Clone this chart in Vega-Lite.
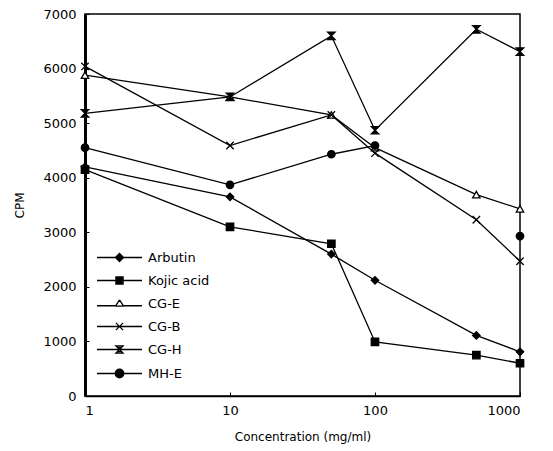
{
  "$schema": "https://vega.github.io/schema/vega-lite/v6.json",
  "width": 435,
  "height": 382,
  "autosize": "none",
  "padding": {"left": 85, "top": 14, "right": 33, "bottom": 55},
  "background": "white",
  "config": {
    "font": "DejaVu Sans",
    "view": {"stroke": "black", "strokeWidth": 1.5},
    "axis": {"grid": false, "labelColor": "black", "titleColor": "black", "domainColor": "black", "tickColor": "black", "labelFontSize": 13, "titleFontSize": 12, "titleFontWeight": "normal", "labelFont": "DejaVu Sans", "titleFont": "DejaVu Sans"}
  },
  "data": {
    "values": [
      {"series": "Arbutin", "conc": 1, "cpm": 4200},
      {"series": "Arbutin", "conc": 10, "cpm": 3650},
      {"series": "Arbutin", "conc": 50, "cpm": 2600},
      {"series": "Arbutin", "conc": 100, "cpm": 2120},
      {"series": "Arbutin", "conc": 500, "cpm": 1110},
      {"series": "Arbutin", "conc": 1000, "cpm": 810},
      {"series": "Kojic acid", "conc": 1, "cpm": 4150},
      {"series": "Kojic acid", "conc": 10, "cpm": 3100},
      {"series": "Kojic acid", "conc": 50, "cpm": 2790},
      {"series": "Kojic acid", "conc": 100, "cpm": 990},
      {"series": "Kojic acid", "conc": 500, "cpm": 750},
      {"series": "Kojic acid", "conc": 1000, "cpm": 600},
      {"series": "CG-E", "conc": 1, "cpm": 5880},
      {"series": "CG-E", "conc": 10, "cpm": 5480},
      {"series": "CG-E", "conc": 50, "cpm": 5150},
      {"series": "CG-E", "conc": 100, "cpm": 4550},
      {"series": "CG-E", "conc": 500, "cpm": 3690},
      {"series": "CG-E", "conc": 1000, "cpm": 3430},
      {"series": "CG-B", "conc": 1, "cpm": 6040},
      {"series": "CG-B", "conc": 10, "cpm": 4590},
      {"series": "CG-B", "conc": 50, "cpm": 5150},
      {"series": "CG-B", "conc": 100, "cpm": 4450},
      {"series": "CG-B", "conc": 500, "cpm": 3230},
      {"series": "CG-B", "conc": 1000, "cpm": 2470},
      {"series": "CG-H", "conc": 1, "cpm": 5180},
      {"series": "CG-H", "conc": 10, "cpm": 5480},
      {"series": "CG-H", "conc": 50, "cpm": 6600},
      {"series": "CG-H", "conc": 100, "cpm": 4870},
      {"series": "CG-H", "conc": 500, "cpm": 6720},
      {"series": "CG-H", "conc": 1000, "cpm": 6310},
      {"series": "MH-E", "conc": 1, "cpm": 4550},
      {"series": "MH-E", "conc": 10, "cpm": 3870},
      {"series": "MH-E", "conc": 50, "cpm": 4430},
      {"series": "MH-E", "conc": 100, "cpm": 4590},
      {"series": "MH-E", "conc": 500, "cpm": null},
      {"series": "MH-E", "conc": 1000, "cpm": 2930}
    ]
  },
  "encoding": {
    "x": {
      "field": "conc", "type": "quantitative",
      "scale": {"type": "log", "domain": [1, 1000], "nice": false},
      "axis": {"values": [1, 10, 100, 1000], "format": "d", "title": "Concentration (mg/ml)", "tickSize": -4, "labelPadding": 12, "titlePadding": 14, "domainWidth": 1.5}
    },
    "y": {
      "field": "cpm", "type": "quantitative",
      "scale": {"domain": [0, 7000], "nice": false},
      "axis": {"values": [0, 1000, 2000, 3000, 4000, 5000, 6000, 7000], "format": "d", "title": "CPM", "tickSize": -4, "labelPadding": 13, "titlePadding": 16, "domainWidth": 3}
    }
  },
  "resolve": {"scale": {"shape": "independent"}, "legend": {"shape": "independent"}},
  "layer": [
    {
      "mark": {"type": "line", "color": "black", "strokeWidth": 1.3, "invalid": "break-paths-show-domains"},
      "encoding": {"detail": {"field": "series"}}
    },
    {
      "mark": {"type": "point", "filled": true, "stroke": "black", "strokeWidth": 1.3, "opacity": 1, "size": 55},
      "encoding": {
        "shape": {
          "field": "series",
          "scale": {
            "domain": ["Arbutin", "Kojic acid", "CG-E", "CG-B", "CG-H", "MH-E"],
            "range": ["diamond", "square", "triangle-up", "M-1,-1L1,1M-1,1L1,-1", "M-1,-1L1,-1L-1,1L1,1Z", "circle"]
          },
          "legend": null
        },
        "fill": {
          "field": "series",
          "scale": {
            "domain": ["Arbutin", "Kojic acid", "CG-E", "CG-B", "CG-H", "MH-E"],
            "range": ["black", "black", "white", "black", "black", "black"]
          },
          "legend": null
        }
      }
    },
    {
      "mark": {"type": "point", "filled": false, "color": "black", "strokeWidth": 1.3, "opacity": 0, "size": 81},
      "encoding": {
        "shape": {
          "field": "series",
          "scale": {
            "domain": ["Arbutin", "Kojic acid", "CG-E", "CG-B", "CG-H", "MH-E"],
            "range": [
              "M-5,0L5,0M0,-0.9L0.9,0L0,0.9L-0.9,0ZM0,-0.6L0.6,0L0,0.6L-0.6,0ZM0,-0.3L0.3,0L0,0.3L-0.3,0Z",
              "M-5,0L5,0M-0.8,-0.8L0.8,-0.8L0.8,0.8L-0.8,0.8ZM-0.5,-0.5L0.5,-0.5L0.5,0.5L-0.5,0.5ZM-0.2,-0.2L0.2,-0.2L0.2,0.2L-0.2,0.2Z",
              "M-5,0.5L-0.9,0.5M0.9,0.5L5,0.5M0,-0.8L0.9,0.6M0.9,0.6L-0.9,0.6M-0.9,0.6L0,-0.8",
              "M-5,0L5,0M-0.8,-0.8L0.8,0.8M-0.8,0.8L0.8,-0.8",
              "M-5,0L5,0M-0.8,-0.8L0.8,-0.8L-0.8,0.8L0.8,0.8ZM-0.45,-0.45L0.45,-0.45M-0.45,0.45L0.45,0.45",
              "M-5,0L5,0M-0.95,0A0.95,0.95 0 1,0 0.95,0A0.95,0.95 0 1,0 -0.95,0ZM-0.72,0A0.72,0.72 0 1,0 0.72,0A0.72,0.72 0 1,0 -0.72,0ZM-0.48,0A0.48,0.48 0 1,0 0.48,0A0.48,0.48 0 1,0 -0.48,0ZM-0.24,0A0.24,0.24 0 1,0 0.24,0A0.24,0.24 0 1,0 -0.24,0Z"
            ]
          },
          "legend": {
            "orient": "none", "legendX": 28, "legendY": 237, "title": null, "padding": 0,
            "symbolSize": 81, "labelOffset": 22, "rowPadding": 9,
            "labelFontSize": 13, "labelFont": "DejaVu Sans", "labelColor": "black",
            "symbolOpacity": 1, "symbolStrokeColor": "black", "symbolStrokeWidth": 1.3
          }
        }
      }
    }
  ]
}
